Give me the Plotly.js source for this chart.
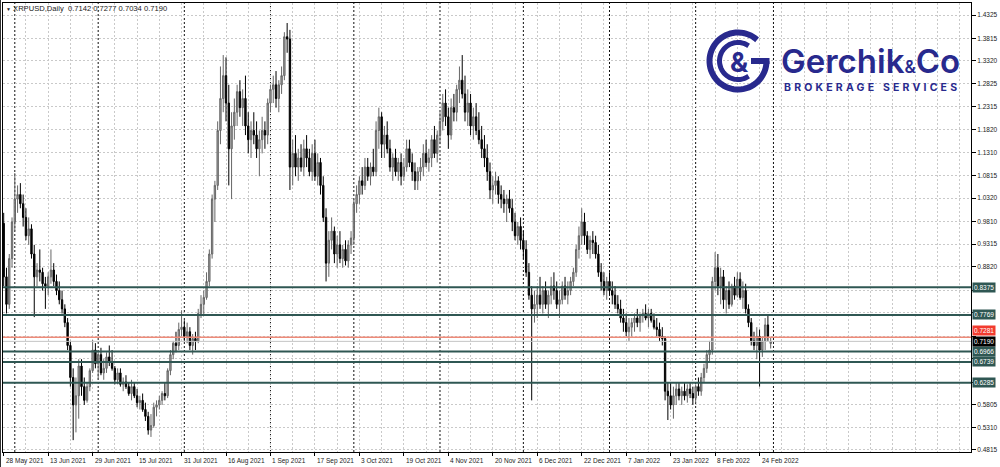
<!DOCTYPE html>
<html>
<head>
<meta charset="utf-8">
<script src="https://cdn.plot.ly/plotly-3.0.1.min.js"></script>
<style>html,body{margin:0;padding:0;background:#fff;}#chart{width:1000px;height:467px;}</style>
</head>
<body>
<div id="chart"></div>
<script>
// ---------------- DATA ----------------
const symbol = 'XRPUSD';
const period = 'Daily';
const startDate = [2021, 4, 28]; // 28 May 2021, one bar per calendar day

const openP = [
.977,.86,.80,.90,.98,1.03,1.04,1.02,.99,.95,.965,.91,.86,.875,.87,.845,.84,.86,.875,.85,
.83,.81,.79,.76,.71,.64,.58,.60,.665,.62,.59,.62,.655,.70,.67,.69,.65,.66,.685,.675,
.66,.635,.65,.625,.63,.62,.605,.62,.60,.585,.59,.57,.555,.525,.535,.575,.58,.59,.605,.60,
.655,.69,.715,.71,.745,.75,.73,.74,.71,.725,.72,.78,.80,.815,.85,.91,1.03,1.06,1.18,1.25,
1.30,1.24,1.14,1.19,1.22,1.265,1.23,1.25,1.19,1.16,1.18,1.17,1.14,1.16,1.18,1.17,1.24,1.27,1.28,1.25,
1.28,1.30,1.385,1.38,1.10,1.13,1.10,1.12,1.10,1.14,1.12,1.09,1.13,1.08,1.11,1.06,.99,.89,.94,.96,
.91,.93,.90,.92,.895,.93,.945,1.02,1.04,1.07,1.06,1.10,1.08,1.10,1.09,1.18,1.21,1.15,1.17,1.14,
1.10,1.12,1.09,1.11,1.08,1.10,1.14,1.11,1.09,1.07,1.09,1.10,1.13,1.11,1.12,1.16,1.13,1.17,1.20,1.24,
1.21,1.17,1.23,1.22,1.27,1.29,1.26,1.22,1.24,1.19,1.21,1.18,1.16,1.14,1.12,1.09,1.05,1.06,1.07,1.04,
1.03,1.02,1.03,1.01,.98,.95,.97,.94,.92,.87,.82,.79,.80,.82,.80,.83,.80,.82,.84,.83,
.80,.81,.84,.82,.83,.85,.87,.92,.95,.98,.95,.92,.94,.935,.91,.87,.85,.83,.85,.83,
.82,.80,.79,.77,.76,.74,.75,.76,.77,.76,.775,.78,.77,.78,.765,.75,.745,.73,.725,.61,
.60,.58,.60,.615,.60,.61,.60,.615,.605,.595,.62,.61,.64,.66,.69,.70,.85,.88,.84,.86,
.81,.83,.80,.84,.82,.855,.815,.83,.79,.76,.72,.71,.73,.70,.72,.755,.7142
];
const highP = [
1.00,.88,.91,.99,1.087,1.06,1.065,1.04,1.01,.99,.975,.93,.89,.92,.88,.86,.87,.92,.89,.865,
.85,.83,.80,.77,.72,.66,.64,.68,.68,.64,.63,.66,.722,.715,.70,.705,.68,.695,.71,.70,
.665,.66,.66,.64,.645,.63,.635,.63,.615,.60,.605,.585,.565,.56,.585,.59,.60,.61,.63,.66,
.70,.72,.74,.76,.787,.765,.76,.75,.735,.74,.79,.82,.83,.87,.92,1.04,1.07,1.20,1.32,1.345,
1.34,1.28,1.22,1.25,1.28,1.29,1.27,1.30,1.22,1.20,1.22,1.20,1.18,1.21,1.20,1.25,1.28,1.30,1.31,1.29,
1.32,1.395,1.415,1.40,1.16,1.17,1.14,1.15,1.16,1.17,1.14,1.15,1.16,1.13,1.12,1.08,1.01,.96,.99,.97,
.95,.96,.93,.94,.94,.96,1.03,1.06,1.08,1.10,1.12,1.12,1.11,1.14,1.20,1.23,1.22,1.19,1.20,1.16,
1.13,1.14,1.12,1.13,1.12,1.16,1.16,1.13,1.11,1.10,1.12,1.15,1.16,1.14,1.17,1.19,1.18,1.22,1.26,1.27,
1.23,1.25,1.26,1.28,1.32,1.345,1.30,1.27,1.26,1.23,1.24,1.22,1.19,1.17,1.15,1.11,1.08,1.09,1.08,1.06,
1.05,1.04,1.05,1.03,1.00,.98,.99,.96,.94,.89,.84,.83,.84,.86,.84,.85,.83,.86,.87,.85,
.83,.85,.86,.85,.86,.88,.93,.97,1.01,1.00,.96,.95,.96,.95,.93,.89,.87,.86,.87,.85,
.84,.82,.81,.79,.78,.77,.77,.78,.79,.78,.79,.80,.79,.79,.78,.77,.76,.75,.73,.63,
.63,.62,.63,.63,.62,.63,.625,.63,.62,.625,.64,.65,.67,.70,.72,.86,.914,.91,.88,.875,
.84,.85,.845,.86,.87,.87,.85,.845,.80,.77,.74,.75,.745,.73,.77,.775,.7277
];
const lowP = [
.84,.78,.79,.88,.96,1.00,1.01,.97,.94,.93,.90,.772,.84,.85,.83,.79,.82,.845,.84,.82,
.80,.78,.75,.70,.62,.503,.52,.55,.60,.58,.585,.61,.65,.66,.635,.645,.635,.65,.665,.655,
.625,.625,.62,.61,.615,.60,.59,.595,.575,.57,.565,.545,.515,.51,.53,.555,.57,.58,.59,.595,
.645,.68,.695,.70,.73,.72,.715,.70,.69,.70,.715,.77,.775,.81,.84,.90,.98,1.05,1.15,1.22,
1.20,1.06,1.03,1.16,1.19,1.21,1.19,1.17,1.13,1.12,1.15,1.12,1.08,1.13,1.14,1.15,1.22,1.24,1.23,1.22,
1.26,1.29,1.35,1.05,1.06,1.08,1.07,1.09,1.08,1.10,1.08,1.07,1.07,1.06,1.04,.98,.85,.86,.92,.89,
.88,.89,.88,.885,.88,.91,.93,1.00,1.02,1.04,1.05,1.07,1.06,1.08,1.08,1.14,1.12,1.12,1.13,1.09,
1.07,1.08,1.07,1.06,1.07,1.09,1.10,1.07,1.05,1.05,1.07,1.08,1.10,1.09,1.10,1.12,1.11,1.15,1.18,1.19,
1.14,1.16,1.20,1.20,1.24,1.25,1.20,1.19,1.17,1.16,1.17,1.15,1.12,1.10,1.07,1.03,1.02,1.04,1.02,1.01,
1.00,.98,1.00,.96,.94,.93,.92,.90,.86,.81,.59,.76,.77,.79,.78,.79,.77,.80,.81,.79,
.77,.80,.81,.80,.82,.84,.86,.90,.93,.93,.91,.90,.91,.90,.86,.83,.82,.81,.82,.80,
.79,.78,.76,.74,.73,.72,.73,.74,.75,.74,.76,.765,.75,.76,.745,.73,.72,.71,.59,.547,
.57,.55,.58,.59,.58,.59,.585,.595,.58,.585,.60,.60,.63,.65,.675,.69,.83,.82,.80,.79,
.78,.79,.795,.81,.815,.81,.79,.78,.75,.71,.70,.68,.62,.685,.70,.72,.7034
];
const closeP = [
.86,.80,.90,.98,1.03,1.04,1.02,.99,.95,.965,.91,.86,.875,.87,.845,.84,.86,.875,.85,.83,
.81,.79,.76,.71,.64,.58,.60,.665,.62,.59,.62,.655,.70,.67,.69,.65,.66,.685,.675,.66,
.635,.65,.625,.63,.62,.605,.62,.60,.585,.59,.57,.555,.525,.535,.575,.58,.59,.605,.60,.655,
.69,.715,.71,.745,.75,.73,.74,.71,.725,.72,.78,.80,.815,.85,.91,1.03,1.06,1.18,1.25,1.30,
1.24,1.14,1.19,1.22,1.265,1.23,1.25,1.19,1.16,1.18,1.17,1.14,1.16,1.18,1.17,1.24,1.27,1.28,1.25,1.28,
1.30,1.385,1.38,1.10,1.13,1.10,1.12,1.10,1.14,1.12,1.09,1.13,1.08,1.11,1.06,.99,.89,.94,.96,.91,
.93,.90,.92,.895,.93,.945,1.02,1.04,1.07,1.06,1.10,1.08,1.10,1.09,1.18,1.21,1.15,1.17,1.14,1.10,
1.12,1.09,1.11,1.08,1.10,1.14,1.11,1.09,1.07,1.09,1.10,1.13,1.11,1.12,1.16,1.13,1.17,1.20,1.24,1.21,
1.17,1.23,1.22,1.27,1.29,1.26,1.22,1.24,1.19,1.21,1.18,1.16,1.14,1.12,1.09,1.05,1.06,1.07,1.04,1.03,
1.02,1.03,1.01,.98,.95,.97,.94,.92,.87,.82,.79,.80,.82,.80,.83,.80,.82,.84,.83,.80,
.81,.84,.82,.83,.85,.87,.92,.95,.98,.95,.92,.94,.935,.91,.87,.85,.83,.85,.83,.82,
.80,.79,.77,.76,.74,.75,.76,.77,.76,.775,.78,.77,.78,.765,.75,.745,.73,.725,.61,.60,
.58,.60,.615,.60,.61,.60,.615,.605,.595,.62,.61,.64,.66,.69,.70,.85,.88,.84,.86,.81,
.83,.80,.84,.82,.855,.815,.83,.79,.76,.72,.71,.73,.70,.72,.755,.73,.7190
];

const xTickDates  = ['2021-05-28','2021-06-13','2021-06-29','2021-07-15','2021-07-31','2021-08-16','2021-09-01','2021-09-17','2021-10-03','2021-10-19','2021-11-04','2021-11-20','2021-12-06','2021-12-22','2022-01-07','2022-01-23','2022-02-08','2022-02-24'];
const xTickLabels = ['28 May 2021','13 Jun 2021','29 Jun 2021','15 Jul 2021','31 Jul 2021','16 Aug 2021','1 Sep 2021','17 Sep 2021','3 Oct 2021','19 Oct 2021','4 Nov 2021','20 Nov 2021','6 Dec 2021','22 Dec 2021','7 Jan 2022','23 Jan 2022','8 Feb 2022','24 Feb 2022'];
const monthSeparators = ['2021-06-01','2021-07-01','2021-08-01','2021-09-01','2021-10-01','2021-11-01','2021-12-01','2022-01-01','2022-02-01','2022-03-01'];

// price grid levels; the labels of the ones hidden behind price tags in the terminal are left blank
const yTickVals = [1.4325,1.3815,1.3320,1.2825,1.2315,1.1820,1.1310,1.0815,1.0320,0.9810,0.9315,0.8820,0.8310,0.7815,0.7305,0.6810,0.6300,0.5805,0.5310,0.4815];
const yTickText = ['1.4325','1.3815','1.3320','1.2825','1.2315','1.1820','1.1310','1.0815','1.0320','0.9810','0.9315','0.8820','','','','','','0.5805','0.5310','0.4815'];

const levelPrices = [0.8375, 0.7769, 0.6966, 0.6739, 0.6285];
const levelLabels = ['0.8375', '0.7769', '0.6966', '0.6739', '0.6285'];
const askPrice = 0.7281, askLabel = '0.7281';
const bidPrice = 0.7190, bidLabel = '0.7190';

// ---------------- BUILD ----------------
const dates = openP.map((_, i) => new Date(Date.UTC(startDate[0], startDate[1], startDate[2] + i)).toISOString().slice(0, 10));

const navy = '#28298d';
const levelColor = '#2f5753';
const gridColor = '#c9c9c9';
const dots = '2px,2px';

const trace = {
  type: 'candlestick',
  x: dates, open: openP, high: highP, low: lowP, close: closeP,
  increasing: {line: {color: '#666666', width: 1}, fillcolor: '#a3a3a3'},
  decreasing: {line: {color: '#000000', width: 1}, fillcolor: '#000000'},
  whiskerwidth: 0,
  hoverinfo: 'skip',
  showlegend: false
};

// plot area in pixels: x 3..971, y 3..452
const PL = 3, PR = 971, PT = 3, PB = 452;
const px2paperX = px => (px - PL) / (PR - PL);
const px2paperY = py => (PB - py) / (PB - PT);

function arcPath(cx, cy, r, a0, a1) {
  const pts = [];
  const n = 60;
  for (let k = 0; k <= n; k++) {
    const a = (a0 + (a1 - a0) * k / n) * Math.PI / 180;
    pts.push(px2paperX(cx + r * Math.cos(a)).toFixed(5) + ',' + px2paperY(cy - r * Math.sin(a)).toFixed(5));
  }
  return 'M' + pts.join(' L');
}

const shapes = [];
// month separators
monthSeparators.forEach(d => shapes.push({type: 'line', xref: 'x', yref: 'paper', x0: d, x1: d, y0: 0, y1: 1,
  line: {color: '#111', width: 1, dash: dots}, layer: 'below'}));
// ask / bid lines
shapes.push({type: 'line', xref: 'paper', yref: 'y', x0: 0, x1: 1, y0: askPrice, y1: askPrice, line: {color: '#ee8a78', width: 1.5}, layer: 'above'});
shapes.push({type: 'line', xref: 'paper', yref: 'y', x0: 0, x1: 1, y0: bidPrice, y1: bidPrice, line: {color: '#c4c4c4', width: 1}, layer: 'above'});
// support/resistance levels
levelPrices.forEach(p => shapes.push({type: 'line', xref: 'paper', yref: 'y', x0: 0, x1: 1, y0: p, y1: p,
  line: {color: levelColor, width: 2}, layer: 'above'}));
// left outer edge line
shapes.push({type: 'line', xref: 'paper', yref: 'paper', x0: px2paperX(0.5), x1: px2paperX(0.5), y0: px2paperY(467), y1: px2paperY(0), line: {color: '#333', width: 1}});
// logo emblem
const ecx = 738, ecy = 61;
shapes.push({type: 'path', xref: 'paper', yref: 'paper', path: arcPath(ecx, ecy, 28.5, 48, 360), line: {color: navy, width: 6}});
shapes.push({type: 'path', xref: 'paper', yref: 'paper',
  path: 'M' + px2paperX(ecx + 31.5) + ',' + px2paperY(ecy) + ' L' + px2paperX(ecx + 13) + ',' + px2paperY(ecy), line: {color: navy, width: 6}});
shapes.push({type: 'path', xref: 'paper', yref: 'paper', path: arcPath(ecx, ecy, 18.5, 55, 305), line: {color: navy, width: 5}});

const annotations = [];
// x tick labels (left-aligned at their tick, as in the terminal)
xTickDates.forEach((d, i) => annotations.push({xref: 'x', yref: 'paper', x: d, y: 0, xanchor: 'left', yanchor: 'top',
  yshift: -3, xshift: 0, text: xTickLabels[i], showarrow: false, font: {size: 6.5, color: '#1a1a1a'}}));
// level labels
function priceTag(p, txt, bg, anchor, shift) {
  annotations.push({xref: 'paper', yref: 'y', x: 1, y: p, xanchor: 'left', yanchor: anchor || 'middle', xshift: 1, yshift: shift || 0,
    text: txt, showarrow: false, bgcolor: bg, borderpad: 1, font: {size: 6.5, color: '#ffffff'}});
}
levelPrices.forEach((p, i) => priceTag(p, levelLabels[i], levelColor));
priceTag(askPrice, askLabel, '#f23b2f', 'bottom', 1);
priceTag(bidPrice, bidLabel, '#000000', 'top', 5);
// chart title with last bar OHLC
const last = closeP.length - 1;
annotations.push({xref: 'paper', yref: 'paper', x: px2paperX(4), y: px2paperY(8), xanchor: 'left', yanchor: 'middle',
  showarrow: false, font: {size: 7.6, color: '#1a1a1a'},
  text: '<span style="font-size:5px">▼</span> ' + symbol + ',' + period + '  ' +
    [openP[last], highP[last], lowP[last], closeP[last]].map(v => v.toFixed(4)).join(' ')});
// logo texts
annotations.push({xref: 'paper', yref: 'paper', x: px2paperX(ecx + 1), y: px2paperY(ecy + 1), xanchor: 'center', yanchor: 'middle',
  showarrow: false, text: '&amp;', font: {family: 'Inter, Roboto, sans-serif', size: 27, weight: 700, color: navy}});
annotations.push({xref: 'paper', yref: 'paper', x: px2paperX(779), y: px2paperY(61), xanchor: 'left', yanchor: 'middle',
  showarrow: false, text: 'Gerchik<span style="font-size:17px">&amp;</span>Co',
  font: {family: 'Inter, Roboto, sans-serif', size: 33, weight: 600, color: navy}});
annotations.push({xref: 'paper', yref: 'paper', x: px2paperX(782), y: px2paperY(87), xanchor: 'left', yanchor: 'middle',
  showarrow: false, text: '<span style="letter-spacing:3.2px">BROKERAGE SERVICES</span>',
  font: {family: 'Inter, Roboto, sans-serif', size: 10.5, weight: 700, color: navy}});

const layout = {
  width: 1000, height: 467,
  margin: {l: PL, r: 1000 - PR, t: PT, b: 467 - PB, pad: 0},
  paper_bgcolor: '#ffffff', plot_bgcolor: '#ffffff',
  showlegend: false,
  font: {family: '"Liberation Sans", Arial, sans-serif', size: 6.5, color: '#1a1a1a'},
  xaxis: {
    type: 'date', range: ['2021-05-27 18:00', '2022-05-11 02:00'], fixedrange: true,
    rangeslider: {visible: false},
    tickmode: 'array', tickvals: xTickDates, ticktext: xTickLabels.map(() => ''), showticklabels: false,
    ticks: 'outside', ticklen: 3, tickcolor: '#000', tickwidth: 1,
    showgrid: true, gridcolor: gridColor, griddash: dots, gridwidth: 1,
    minor: {tickmode: 'linear', tick0: '2021-05-28', dtick: 8 * 86400000, showgrid: true, gridcolor: gridColor, griddash: dots, ticks: ''},
    showline: true, linecolor: '#000', linewidth: 1, mirror: true, zeroline: false
  },
  yaxis: {
    side: 'right', range: [0.4771, 1.4588], fixedrange: true,
    tickmode: 'array', tickvals: yTickVals, ticktext: yTickText,
    ticks: 'outside', ticklen: 4, tickcolor: '#000', tickwidth: 1, tickfont: {size: 6.5, color: '#1a1a1a'},
    showgrid: true, gridcolor: gridColor, griddash: dots, gridwidth: 1,
    showline: true, linecolor: '#000', linewidth: 1, mirror: true, zeroline: false
  },
  shapes: shapes,
  annotations: annotations
};

Plotly.newPlot('chart', [trace], layout, {displayModeBar: false, staticPlot: true});
</script>
</body>
</html>
